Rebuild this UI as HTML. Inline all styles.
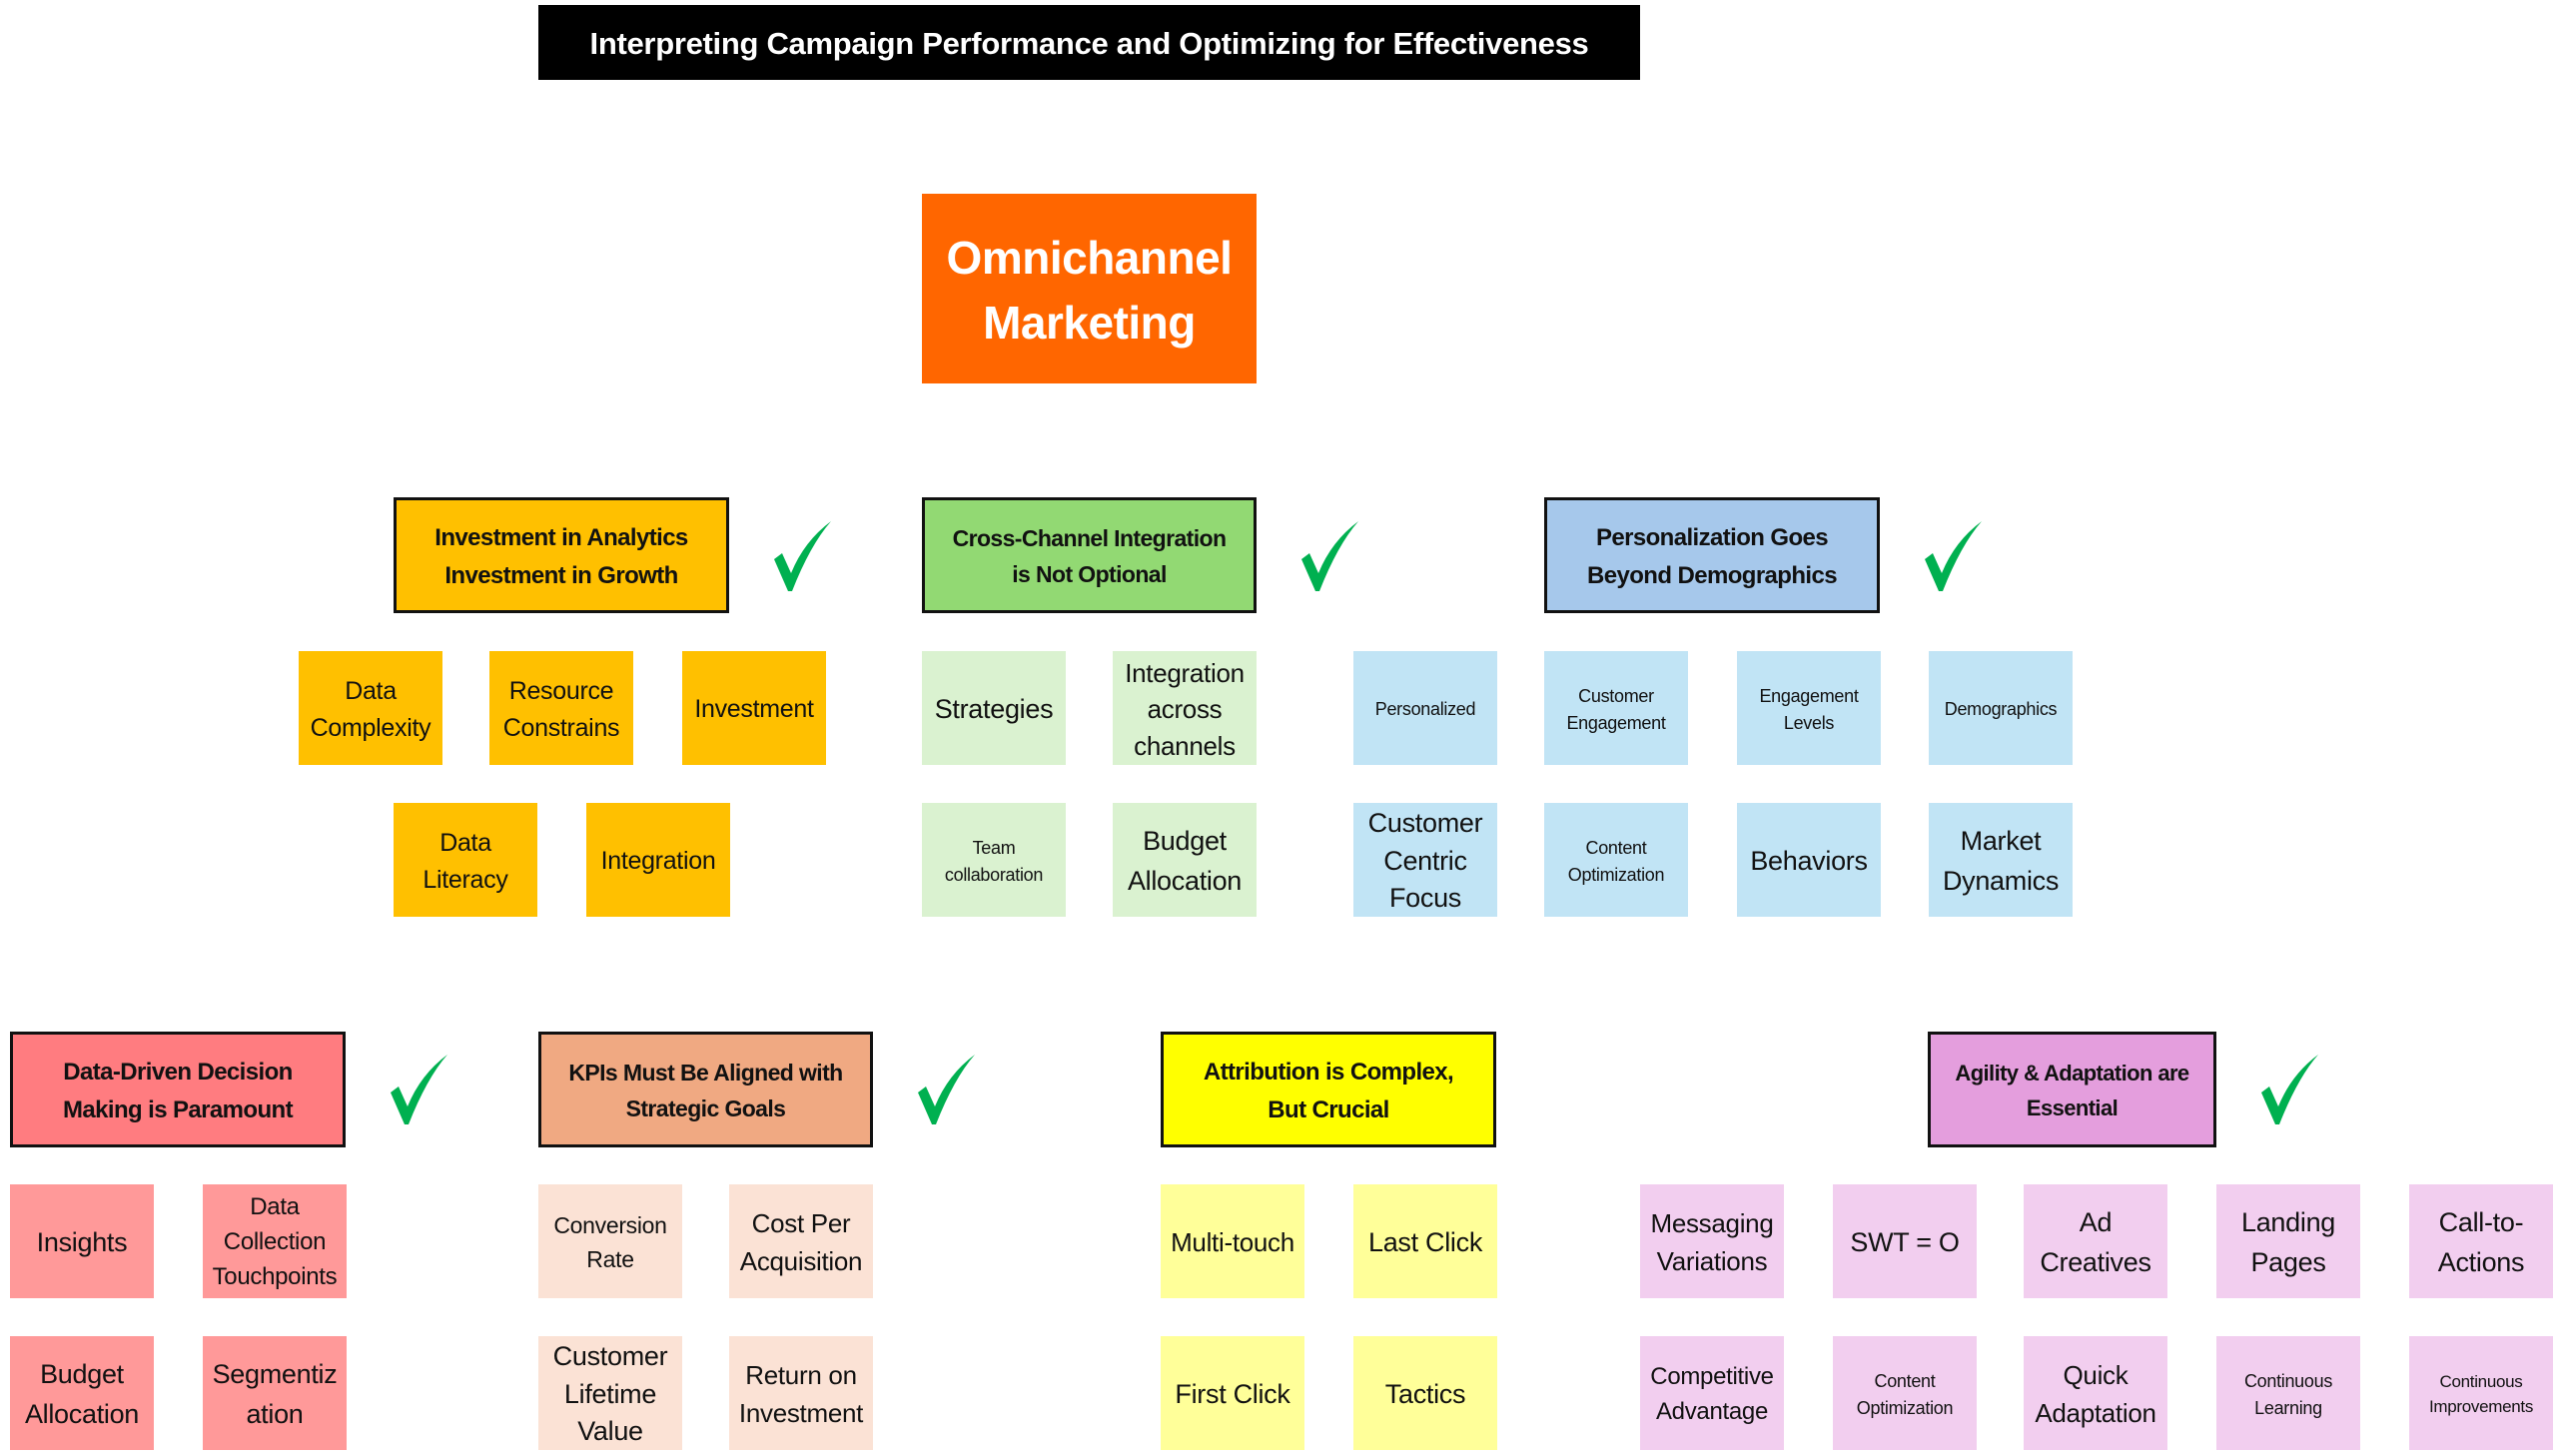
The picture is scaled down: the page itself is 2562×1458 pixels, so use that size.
<!DOCTYPE html>
<html><head><meta charset="utf-8"><style>
html,body{margin:0;padding:0;background:#fff;}
body{width:2562px;height:1458px;position:relative;overflow:hidden;font-family:"Liberation Sans",sans-serif;}
.b{position:absolute;display:flex;align-items:center;justify-content:center;text-align:center;box-sizing:border-box;color:#111;line-height:1.45;white-space:nowrap;padding-top:3px;}
.h{border:3px solid #111;font-weight:bold;font-size:24px;height:116px;letter-spacing:-0.6px;line-height:1.55;}
.s{width:144px;height:114px;font-size:25px;letter-spacing:-0.3px;}
.t{font-size:18px;}
</style></head><body>
<div class="b" style="left:539px;top:5px;width:1103px;height:75px;background:#000;color:#fff;font-weight:bold;font-size:31px;letter-spacing:-0.3px;">Interpreting Campaign Performance and Optimizing for Effectiveness</div>
<div class="b" style="left:923px;top:194px;width:335px;height:190px;background:#FF6600;color:#fff;font-weight:bold;font-size:46px;line-height:1.4;letter-spacing:-0.5px;">Omnichannel<br>Marketing</div>

<div class="b h" style="left:394px;top:498px;width:336px;background:#FFC000;">Investment in Analytics<br>Investment in Growth</div>
<div class="b h" style="left:923px;top:498px;width:335px;background:#92D973;font-size:23px;">Cross-Channel Integration<br>is Not Optional</div>
<div class="b h" style="left:1546px;top:498px;width:336px;background:#A6C8EB;">Personalization Goes<br>Beyond Demographics</div>

<div class="b s" style="left:299px;top:652px;background:#FFC000;">Data<br>Complexity</div>
<div class="b s" style="left:490px;top:652px;background:#FFC000;">Resource<br>Constrains</div>
<div class="b s" style="left:683px;top:652px;background:#FFC000;">Investment</div>
<div class="b s" style="left:394px;top:804px;background:#FFC000;">Data<br>Literacy</div>
<div class="b s" style="left:587px;top:804px;background:#FFC000;">Integration</div>

<div class="b s" style="left:923px;top:652px;background:#DAF2D0;font-size:27px;">Strategies</div>
<div class="b s" style="left:1114px;top:652px;background:#DAF2D0;font-size:26px;line-height:1.4;">Integration<br>across<br>channels</div>
<div class="b s t" style="left:923px;top:804px;background:#DAF2D0;">Team<br>collaboration</div>
<div class="b s" style="left:1114px;top:804px;background:#DAF2D0;font-size:27px;">Budget<br>Allocation</div>

<div class="b s t" style="left:1355px;top:652px;background:#C1E4F5;">Personalized</div>
<div class="b s t" style="left:1546px;top:652px;background:#C1E4F5;">Customer<br>Engagement</div>
<div class="b s t" style="left:1739px;top:652px;background:#C1E4F5;">Engagement<br>Levels</div>
<div class="b s t" style="left:1931px;top:652px;background:#C1E4F5;">Demographics</div>
<div class="b s" style="left:1355px;top:804px;background:#C1E4F5;font-size:27px;line-height:1.4;">Customer<br>Centric<br>Focus</div>
<div class="b s t" style="left:1546px;top:804px;background:#C1E4F5;">Content<br>Optimization</div>
<div class="b s" style="left:1739px;top:804px;background:#C1E4F5;font-size:27px;">Behaviors</div>
<div class="b s" style="left:1931px;top:804px;background:#C1E4F5;font-size:27px;">Market<br>Dynamics</div>

<div class="b h" style="left:10px;top:1033px;width:336px;background:#FF7C80;">Data-Driven Decision<br>Making is Paramount</div>
<div class="b h" style="left:539px;top:1033px;width:335px;background:#F0A982;font-size:23px;">KPIs Must Be Aligned with<br>Strategic Goals</div>
<div class="b h" style="left:1162px;top:1033px;width:336px;background:#FFFF00;">Attribution is Complex,<br>But Crucial</div>
<div class="b h" style="left:1930px;top:1033px;width:289px;background:#E49EDD;font-size:22px;">Agility &amp; Adaptation are<br>Essential</div>

<div class="b s" style="left:10px;top:1186px;background:#FF9999;font-size:27px;">Insights</div>
<div class="b s" style="left:203px;top:1186px;background:#FF9999;font-size:24px;">Data<br>Collection<br>Touchpoints</div>
<div class="b s" style="left:10px;top:1338px;background:#FF9999;font-size:27px;">Budget<br>Allocation</div>
<div class="b s" style="left:203px;top:1338px;background:#FF9999;font-size:27px;">Segmentiz<br>ation</div>

<div class="b s" style="left:539px;top:1186px;background:#FBE2D5;font-size:23px;">Conversion<br>Rate</div>
<div class="b s" style="left:730px;top:1186px;background:#FBE2D5;font-size:26px;">Cost Per<br>Acquisition</div>
<div class="b s" style="left:539px;top:1338px;background:#FBE2D5;font-size:27px;line-height:1.4;">Customer<br>Lifetime<br>Value</div>
<div class="b s" style="left:730px;top:1338px;background:#FBE2D5;font-size:26px;">Return on<br>Investment</div>

<div class="b s" style="left:1162px;top:1186px;background:#FFFF99;font-size:26px;">Multi-touch</div>
<div class="b s" style="left:1355px;top:1186px;background:#FFFF99;font-size:27px;">Last Click</div>
<div class="b s" style="left:1162px;top:1338px;background:#FFFF99;font-size:27px;">First Click</div>
<div class="b s" style="left:1355px;top:1338px;background:#FFFF99;font-size:27px;">Tactics</div>

<div class="b s" style="left:1642px;top:1186px;background:#F2CEEF;font-size:26px;">Messaging<br>Variations</div>
<div class="b s" style="left:1835px;top:1186px;background:#F2CEEF;font-size:27px;">SWT = O</div>
<div class="b s" style="left:2026px;top:1186px;background:#F2CEEF;font-size:27px;">Ad<br>Creatives</div>
<div class="b s" style="left:2219px;top:1186px;background:#F2CEEF;font-size:27px;">Landing<br>Pages</div>
<div class="b s" style="left:2412px;top:1186px;background:#F2CEEF;font-size:27px;">Call-to-<br>Actions</div>
<div class="b s" style="left:1642px;top:1338px;background:#F2CEEF;font-size:24px;">Competitive<br>Advantage</div>
<div class="b s t" style="left:1835px;top:1338px;background:#F2CEEF;">Content<br>Optimization</div>
<div class="b s" style="left:2026px;top:1338px;background:#F2CEEF;font-size:26px;">Quick<br>Adaptation</div>
<div class="b s t" style="left:2219px;top:1338px;background:#F2CEEF;">Continuous<br>Learning</div>
<div class="b s t" style="left:2412px;top:1338px;background:#F2CEEF;font-size:17px;">Continuous<br>Improvements</div>

<svg width="2562" height="1458" style="position:absolute;left:0;top:0" >
<defs><path id="c" d="M0,28 L8,22 L17,42 Q30,10 57,-10 Q36,14 18,60 L14,60 Z" fill="#00B050"/></defs>
<use href="#c" x="775" y="532"/>
<use href="#c" x="1303" y="532"/>
<use href="#c" x="1927" y="532"/>
<use href="#c" x="391" y="1066"/>
<use href="#c" x="919" y="1066"/>
<use href="#c" x="2264" y="1066"/>
</svg>
</body></html>
